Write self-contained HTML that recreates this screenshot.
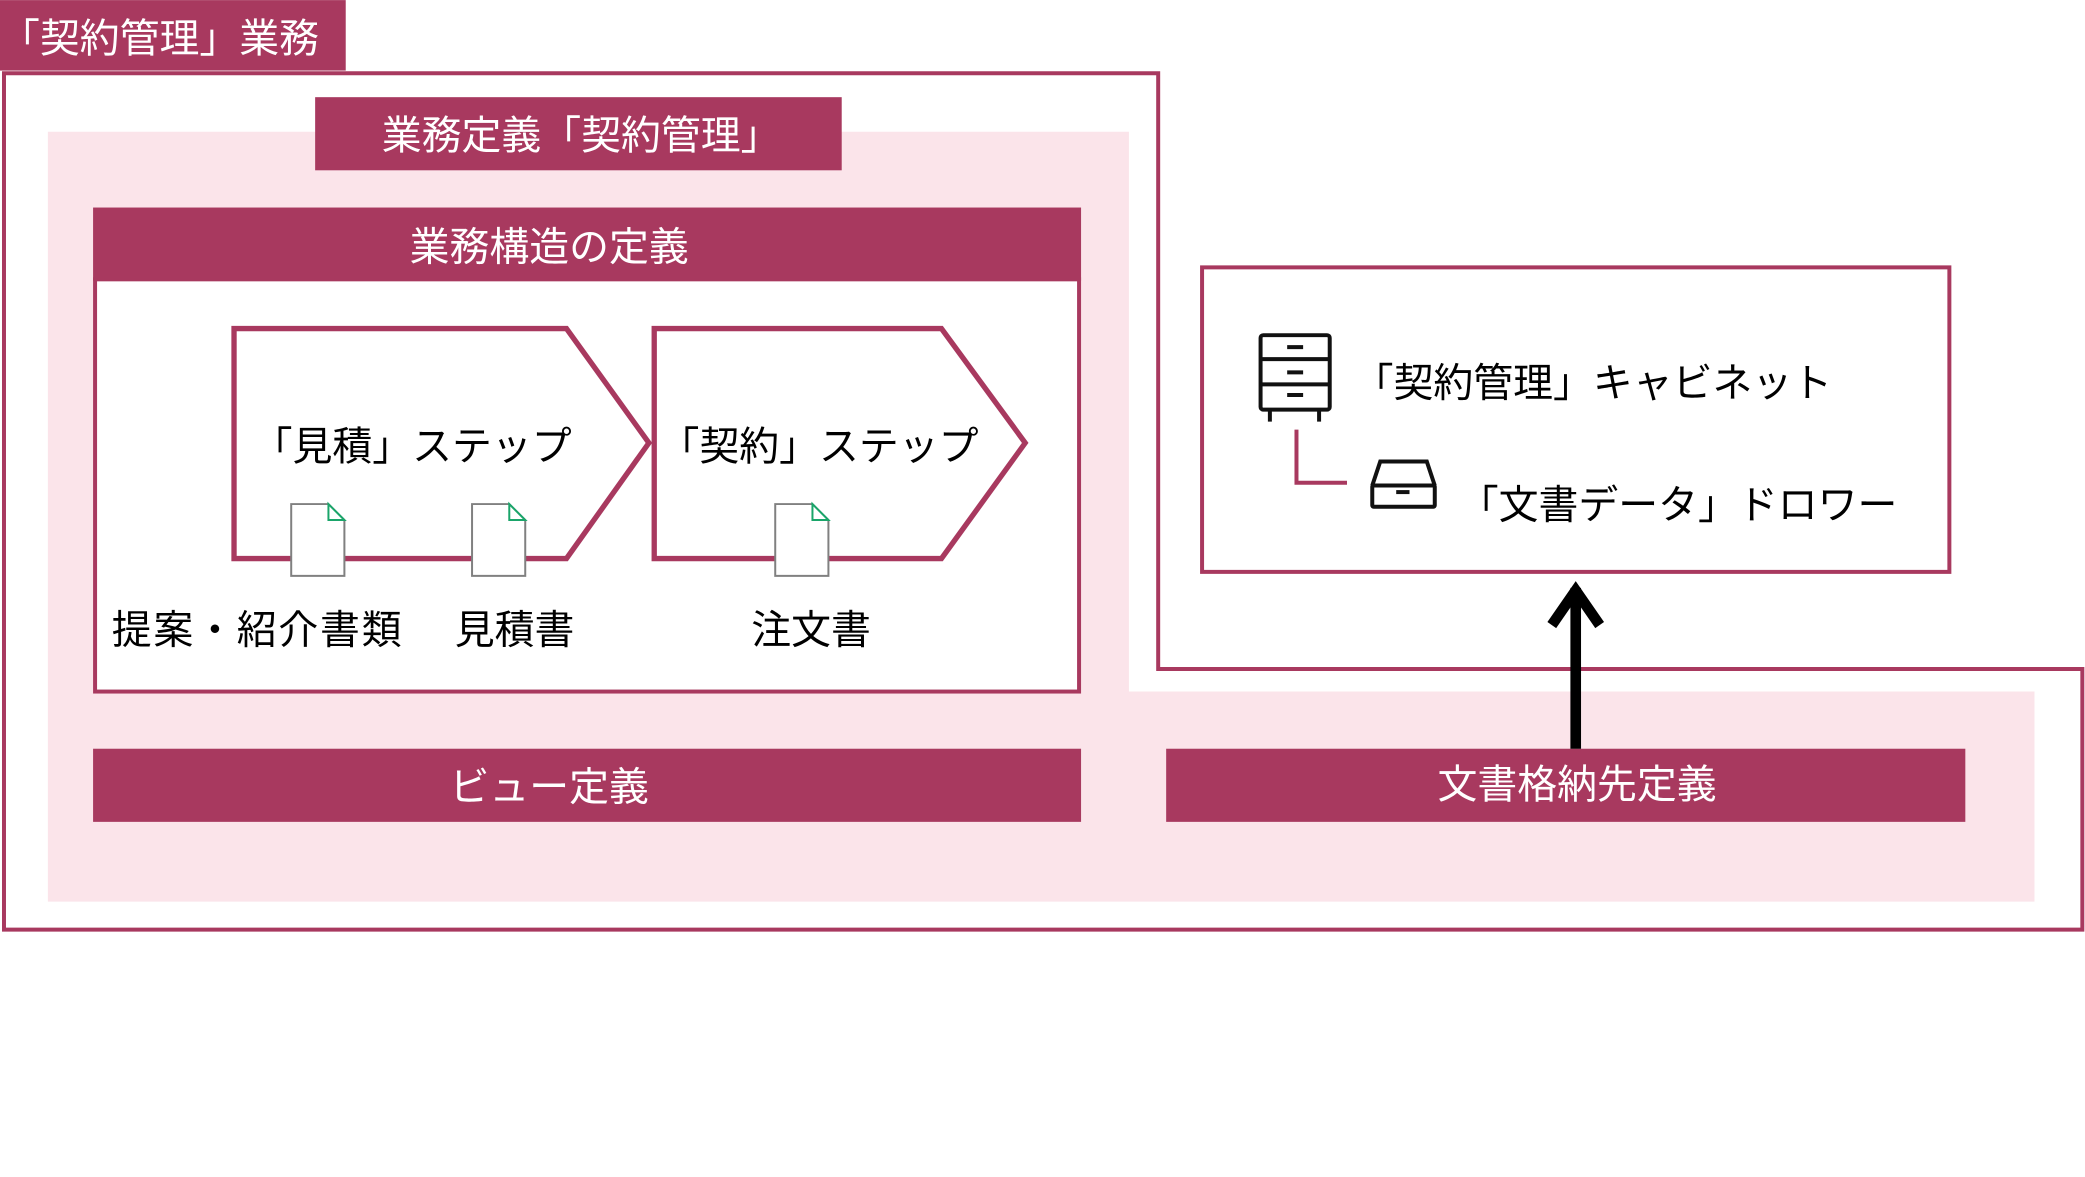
<!DOCTYPE html>
<html><head><meta charset="utf-8"><style>
html,body{margin:0;padding:0;background:#fff;}
svg{display:block;}
text{font-family:"Liberation Sans","Noto Sans CJK JP",sans-serif;}
</style></head><body>
<svg width="2085" height="1177" viewBox="0 0 1568 885" xmlns="http://www.w3.org/2000/svg">
<rect x="0" y="0" width="1568" height="885" fill="#fff"/>
<path d="M36 99 H849 V520 H1530 V678 H36 Z" fill="#fbe4ea"/>
<path d="M3 55 H871 V503 H1566 V699 H3 Z" fill="none" stroke="#a8395f" stroke-width="3"/>
<rect x="0" y="0" width="260" height="53" fill="#a8395f"/>
<text x="0" y="39" font-size="30" fill="#fff">「契約管理」業務</text>
<rect x="237" y="73" width="396" height="55" fill="#a8395f"/>
<text x="437" y="112" font-size="30" fill="#fff" text-anchor="middle">業務定義「契約管理」</text>
<rect x="70" y="156" width="743" height="55" fill="#a8395f"/>
<text x="413" y="196" font-size="30" fill="#fff" text-anchor="middle">業務構造の定義</text>
<rect x="71.5" y="210" width="740" height="310" fill="#fff" stroke="#a8395f" stroke-width="3"/>
<path d="M176 247 H426 L488 333 L426 420 H176 Z" fill="#fff" stroke="#a8395f" stroke-width="4"/>
<path d="M492 247 H708 L771 333 L708 420 H492 Z" fill="#fff" stroke="#a8395f" stroke-width="4"/>
<text x="190" y="346" font-size="30" fill="#000">「見積」ステップ</text>
<text x="496" y="346" font-size="30" fill="#000">「契約」ステップ</text>
<g fill="#fff" stroke="#808080" stroke-width="1.5">
<path d="M219 379 H247 L259 391 V433 H219 Z"/>
<path d="M355 379 H383 L395 391 V433 H355 Z"/>
<path d="M583 379 H611 L623 391 V433 H583 Z"/>
</g>
<g fill="#fff" stroke="#1aa56a" stroke-width="1.5">
<path d="M247 379 V391 H259 Z"/>
<path d="M383 379 V391 H395 Z"/>
<path d="M611 379 V391 H623 Z"/>
</g>
<text x="84" y="484" font-size="30" fill="#000" textLength="218">提案・紹介書類</text>
<text x="342" y="484" font-size="30" fill="#000">見積書</text>
<text x="565" y="484" font-size="30" fill="#000">注文書</text>
<rect x="70" y="563" width="743" height="55" fill="#a8395f"/>
<text x="413" y="602" font-size="30" fill="#fff" text-anchor="middle">ビュー定義</text>
<rect x="877" y="563" width="601" height="55" fill="#a8395f"/>
<text x="1186" y="600" font-size="30" fill="#fff" text-anchor="middle">文書格納先定義</text>
<rect x="904" y="201" width="562" height="229" fill="#fff" stroke="#a8395f" stroke-width="3"/>
<g stroke="#111" stroke-width="3" fill="#fff">
<rect x="948" y="252" width="52" height="56" rx="2"/>
<line x1="948" y1="270" x2="1000" y2="270"/>
<line x1="948" y1="289" x2="1000" y2="289"/>
</g>
<g stroke="#111" stroke-width="3">
<line x1="968" y1="261" x2="980" y2="261"/>
<line x1="968" y1="280" x2="980" y2="280"/>
<line x1="968" y1="297" x2="980" y2="297"/>
<line x1="955" y1="308" x2="955" y2="317"/>
<line x1="992" y1="308" x2="992" y2="317"/>
</g>
<text x="1018" y="298" font-size="30" fill="#000">「契約管理」キャビネット</text>
<path d="M975 323 V363 H1013" fill="none" stroke="#a8395f" stroke-width="3"/>
<g stroke="#111" stroke-width="3" fill="#fff">
<path d="M1032 365 L1038 347 H1073 L1079 365"/>
<rect x="1032" y="365" width="47" height="16" rx="1"/>
</g>
<line x1="1050" y1="370" x2="1060" y2="370" stroke="#111" stroke-width="3"/>
<text x="1097" y="390" font-size="30" fill="#000">「文書データ」ドロワー</text>
<line x1="1185" y1="563" x2="1185" y2="442" stroke="#000" stroke-width="8"/>
<path d="M1167 470 L1185 444 L1203 470" fill="none" stroke="#000" stroke-width="8" stroke-linejoin="miter"/>
</svg>
</body></html>
